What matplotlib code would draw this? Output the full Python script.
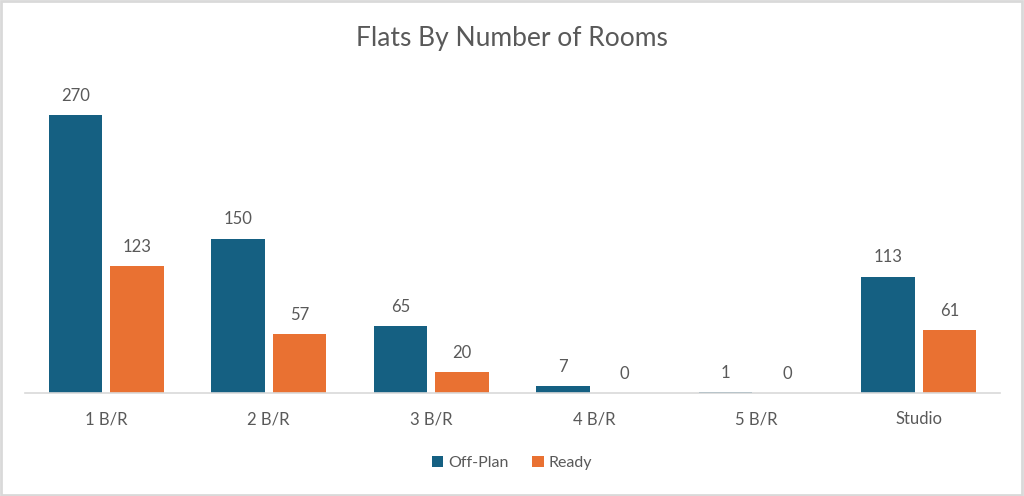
import numpy as np
import matplotlib.pyplot as plt
from matplotlib.patches import Rectangle

plt.rcParams['font.family'] = ['Lato', 'DejaVu Sans']

categories = ['1 B/R', '2 B/R', '3 B/R', '4 B/R', '5 B/R', 'Studio']
off_plan = [270, 150, 65, 7, 1, 113]
ready = [123, 57, 20, 0, 0, 61]

c_off = '#156082'
c_ready = '#E97132'
txt = '#595959'

fig = plt.figure(figsize=(10.24, 4.96), dpi=100)
ax = fig.add_axes([0.0244, 0.2077, 0.9522, 0.6229])

x = np.arange(len(categories))
w = 0.33
b1 = ax.bar(x - 0.19, off_plan, w, color=c_off, label='Off-Plan')
b2 = ax.bar(x + 0.19, ready, w, color=c_ready, label='Ready')

for bars in (b1, b2):
    for r in bars:
        ax.annotate(f'{int(r.get_height())}', (r.get_x() + r.get_width() / 2, r.get_height()),
                    xytext=(0, 8), textcoords='offset points', ha='center', va='bottom',
                    fontsize=12, color=txt)

ax.set_xlim(-0.5, len(categories) - 0.5)
ax.set_ylim(0, 300)
ax.set_xticks(x)
ax.set_xticklabels(categories, fontsize=12, color=txt)
ax.tick_params(axis='x', length=0, pad=13)
ax.set_yticks([])
for s in ['top', 'right', 'left']:
    ax.spines[s].set_visible(False)
ax.spines['bottom'].set_color('#D9D9D9')
ax.spines['bottom'].set_linewidth(1.2)

fig.text(0.5, 0.922, 'Flats By Number of Rooms', ha='center', va='center', fontsize=19, color=txt)
fig.legend(loc='center', bbox_to_anchor=(0.5, 0.067), ncol=2, frameon=False, fontsize=11.5,
           labelcolor=txt, handlelength=0.7, handleheight=0.7, handletextpad=0.3, columnspacing=1.5)

fig.patches.append(Rectangle((0.001, 0.002), 0.997, 0.995, transform=fig.transFigure,
                             fill=False, edgecolor='#D9D9D9', linewidth=2))

fig.savefig('out.png', dpi=100)
